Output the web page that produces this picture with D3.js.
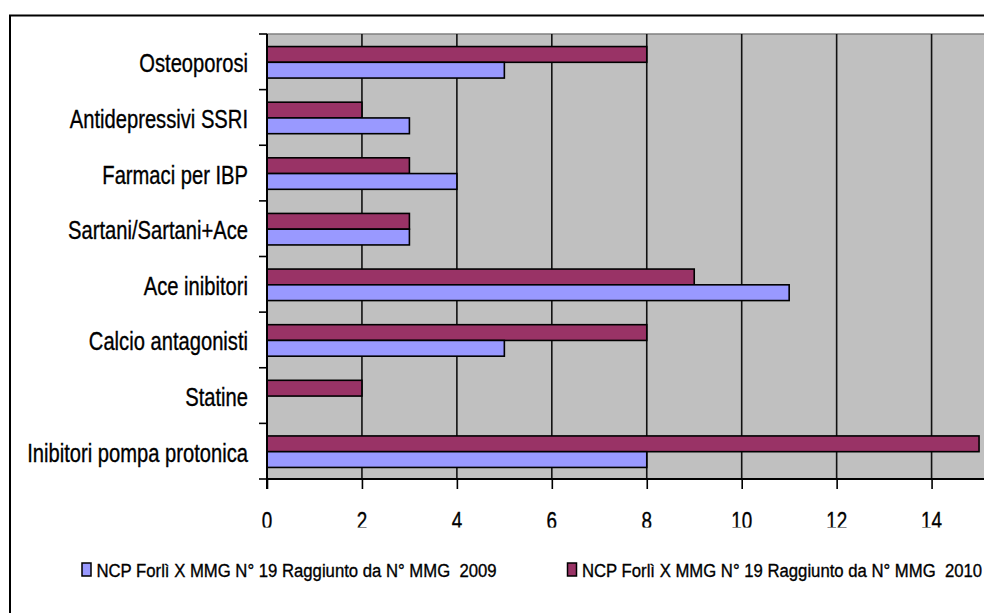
<!DOCTYPE html>
<html>
<head>
<meta charset="utf-8">
<script src="https://cdn.jsdelivr.net/npm/d3@7"></script>
<style>
  html, body { margin: 0; padding: 0; background: #fff; overflow: hidden; }
  svg { display: block; }
  text { font-family: "Liberation Sans", Arial, sans-serif; fill: #000; stroke: #000; stroke-width: 0.35px; }
</style>
</head>
<body>
<svg id="chart" width="1040" height="640"></svg>
<script>
// Categories listed from top to bottom
const categories = [
  "Osteoporosi",
  "Antidepressivi SSRI",
  "Farmaci per IBP",
  "Sartani/Sartani+Ace",
  "Ace inibitori",
  "Calcio antagonisti",
  "Statine",
  "Inibitori pompa protonica"
];
const values2010 = [8, 2, 3, 3, 9, 8, 2, 15];
const values2009 = [5, 3, 4, 3, 11, 5, 0, 8];
const seriesNames = [
  "NCP Forlì X MMG N° 19 Raggiunto da N° MMG  2009",
  "NCP Forlì X MMG N° 19 Raggiunto da N° MMG  2010"
];
const xTicks = [0, 2, 4, 6, 8, 10, 12, 14, 16];
const xTickLabels = [0, 2, 4, 6, 8, 10, 12, 14];

const colors = { y2009: "#9999ff", y2010: "#993366" };

const svg = d3.select("#chart");

// chart frame
svg.append("rect")
  .attr("x", 10).attr("y", 15.5)
  .attr("width", 1100).attr("height", 700)
  .attr("fill", "#fff").attr("stroke", "#000").attr("stroke-width", 2);

const plot = { left: 267, top: 34, bottom: 479 };
const x = d3.scaleLinear().domain([0, 16]).range([plot.left, plot.left + 16 * 47.47]);
const y = d3.scaleBand().domain(categories).range([plot.top, plot.bottom]).padding(0);
const sub = d3.scaleBand().domain(["2010", "2009"]).range([0, 31.5]);
const barOffset = (y.bandwidth() - 31.5) / 2 + 0.5;

// plot background
svg.append("rect")
  .attr("x", plot.left).attr("y", plot.top)
  .attr("width", x(16) - plot.left).attr("height", plot.bottom - plot.top)
  .attr("fill", "#c0c0c0");
svg.append("line")
  .attr("x1", plot.left).attr("x2", x(16))
  .attr("y1", plot.top).attr("y2", plot.top)
  .attr("stroke", "#808080").attr("stroke-width", 1.5);

// vertical gridlines
svg.append("g").selectAll("line")
  .data(xTicks.filter(d => d > 0))
  .join("line")
  .attr("x1", d => x(d)).attr("x2", d => x(d))
  .attr("y1", plot.top).attr("y2", plot.bottom)
  .attr("stroke", "#111").attr("stroke-width", 1.6);

// bars
const rows = categories.map((c, i) => ({ c, v2010: values2010[i], v2009: values2009[i] }));
const barG = svg.append("g");
[["2010", "v2010", colors.y2010], ["2009", "v2009", colors.y2009]].forEach(([k, f, col]) => {
  barG.append("g").selectAll("rect")
    .data(rows.filter(r => r[f] > 0))
    .join("rect")
    .attr("x", x(0))
    .attr("y", r => y(r.c) + barOffset + sub(k))
    .attr("width", r => x(r[f]) - x(0))
    .attr("height", sub.bandwidth())
    .attr("fill", col)
    .attr("stroke", "#000").attr("stroke-width", 1.6);
});

// y axis: line, boundary ticks and labels
svg.append("line")
  .attr("x1", plot.left).attr("x2", plot.left)
  .attr("y1", plot.top).attr("y2", plot.bottom + 10)
  .attr("stroke", "#000").attr("stroke-width", 2);
svg.append("g").selectAll("line")
  .data(categories.map(c => y(c)).concat([y.range()[1]]))
  .join("line")
  .attr("x1", plot.left - 8).attr("x2", plot.left)
  .attr("y1", d => d).attr("y2", d => d)
  .attr("stroke", "#000").attr("stroke-width", 1.6);

const yAxis = svg.append("g")
  .attr("transform", `translate(${plot.left},0)`)
  .call(d3.axisLeft(y).tickSize(0).tickPadding(0));
yAxis.select(".domain").remove();
yAxis.selectAll("text")
  .attr("x", 0).attr("dy", null).attr("y", 10.5)
  .attr("transform", "translate(-19,0) scale(0.807,1)")
  .attr("text-anchor", "end")
  .style("font-size", "25px")
  .style("font-family", "'Liberation Sans', Arial, sans-serif")
  .attr("fill", "#000");

// x axis: line and tick marks
const xAxis = svg.append("g")
  .attr("transform", `translate(0,${plot.bottom})`)
  .call(d3.axisBottom(x).tickValues(xTicks).tickSize(10).tickFormat(() => ""));
xAxis.select(".domain")
  .attr("d", `M${plot.left},0H${x(16)}`)
  .attr("stroke", "#000").attr("stroke-width", 2);
xAxis.selectAll(".tick line").attr("stroke", "#000").attr("stroke-width", 1.6);

// x tick labels, clipped just below their baseline
svg.append("defs").append("clipPath").attr("id", "tickclip")
  .append("rect").attr("x", 200).attr("y", 480).attr("width", 900).attr("height", 47.5);
svg.append("g").attr("clip-path", "url(#tickclip)")
  .selectAll("text")
  .data(xTickLabels)
  .join("text")
  .attr("transform", d => `translate(${x(d)},${plot.bottom + 50}) scale(0.82,1)`)
  .attr("text-anchor", "middle")
  .style("font-size", "23px")
  .text(d3.format("d"));

// legend
const legend = svg.append("g");
const legendItems = [
  { name: seriesNames[0], color: colors.y2009, sx: 82, tx: 96.5 },
  { name: seriesNames[1], color: colors.y2010, sx: 567.5, tx: 582 }
];
legendItems.forEach(it => {
  legend.append("rect")
    .attr("x", it.sx).attr("y", 563)
    .attr("width", 9).attr("height", 13)
    .attr("fill", it.color).attr("stroke", "#000").attr("stroke-width", 1.5);
  legend.append("text")
    .attr("transform", `translate(${it.tx},577) scale(0.88,1)`)
    .style("font-size", "19px")
    .style("white-space", "pre")
    .attr("xml:space", "preserve")
    .text(it.name);
});
</script>
</body>
</html>
